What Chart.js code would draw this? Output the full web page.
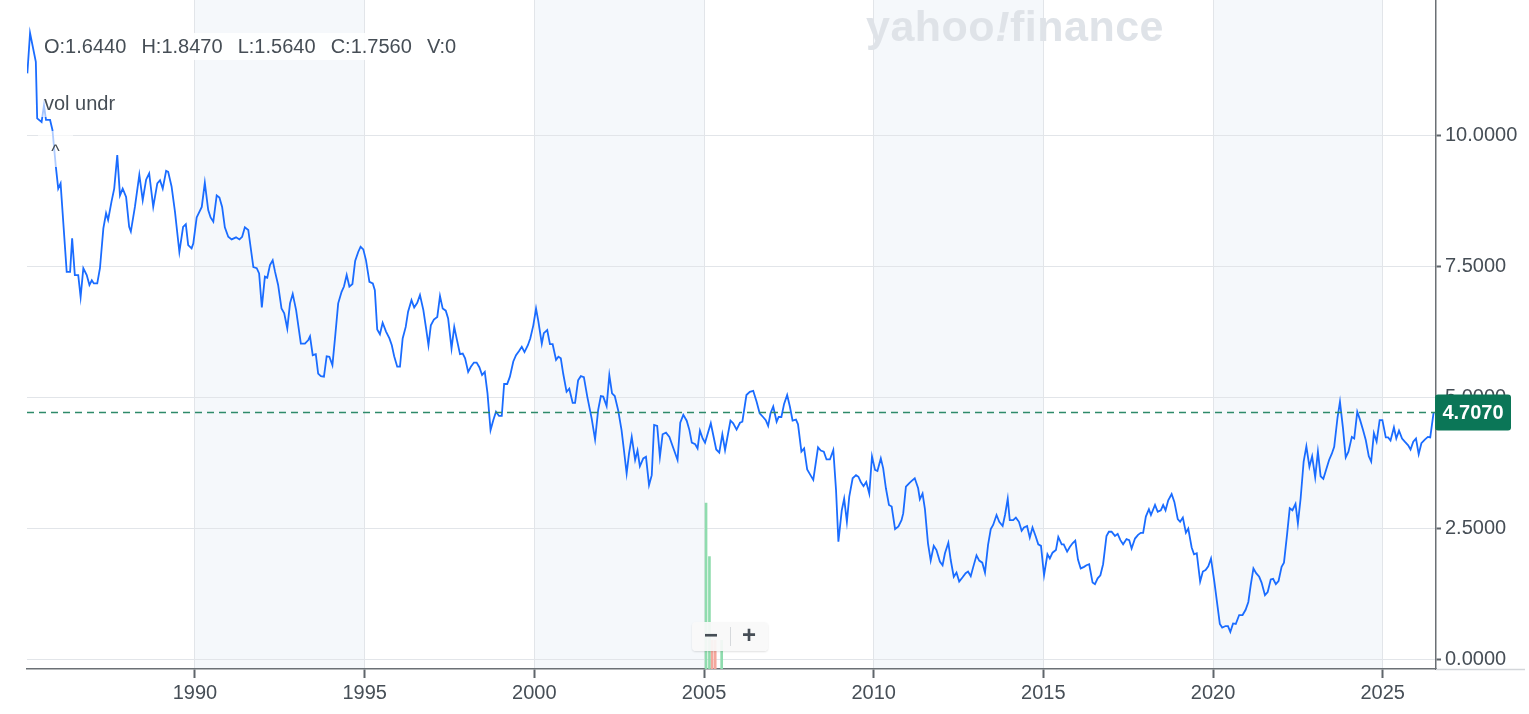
<!DOCTYPE html>
<html>
<head>
<meta charset="utf-8">
<script src="https://cdn.jsdelivr.net/npm/chart.js@4.4.1/dist/chart.umd.min.js"></script>
<style>
  html, body { margin: 0; padding: 0; background: #fff; }
  #wrap { position: relative; width: 1529px; height: 714px; font-family: "Liberation Sans", Arial, sans-serif; }
  .ov { position: absolute; color: #464e56; font-size: 20px; white-space: pre; }
  #ohlc { left: 40px; top: 33px; padding: 2px 4px; background: rgba(255,255,255,0.9); word-spacing: 2px; }
  #vol { left: 40px; top: 90px; padding: 2px 4px; background: rgba(255,255,255,0.6); }
  #caret { left: 38px; top: 131px; width: 35px; height: 36px; background: rgba(255,255,255,0.65); text-align: center; font-size: 18px; line-height: 40px; }
  #logo { left: 866px; top: 2px; font-size: 43px; font-weight: bold; color: #dfe3e8; letter-spacing: 0.5px; }
  #logo i { font-style: italic; }
  #zoomBox { left: 692px; top: 622px; width: 76px; height: 29px; background: rgba(248,248,248,0.92); border-radius: 4px; box-shadow: 0 1px 2px rgba(0,0,0,0.12); color: #464e56; font-size: 24px; font-weight: bold; }
  #zoomBox span { position: absolute; top: -1px; width: 38px; text-align: center; }
  #zoomBox .sep { position: absolute; left: 38px; top: 5px; width: 1px; height: 19px; background: #d6d9dc; }
</style>
</head>
<body>
<div id="wrap">
  <canvas id="myChart" width="1529" height="714"></canvas>
  <div class="ov" id="logo">yahoo<i>!</i>finance</div>
  <div class="ov" id="ohlc">O:1.6440  H:1.8470  L:1.5640  C:1.7560  V:0</div>
  <div class="ov" id="vol">vol undr</div>
  <div class="ov" id="caret">^</div>
  <div class="ov" id="zoomBox"><span style="left:0">&minus;</span><div class="sep"></div><span style="left:38px">+</span></div>
</div>
<script>
// monthly-ish readings, decimal year
const years = [
  1985.06, 1985.14, 1985.31, 1985.35, 1985.48, 1985.55, 1985.61, 1985.73, 1985.80, 1985.90, 1985.97,
  1986.04, 1986.22, 1986.32, 1986.38, 1986.46, 1986.56, 1986.63, 1986.71, 1986.81, 1986.89, 1986.96,
  1987.02, 1987.12, 1987.20, 1987.30, 1987.38, 1987.44, 1987.54, 1987.62, 1987.71, 1987.79, 1987.87, 1987.97,
  1988.06, 1988.11, 1988.23, 1988.36, 1988.46, 1988.56, 1988.65, 1988.77, 1988.89, 1988.97,
  1989.05, 1989.15, 1989.21, 1989.31, 1989.41, 1989.54, 1989.65, 1989.73, 1989.80, 1989.90, 1989.95,
  1990.05, 1990.20, 1990.29, 1990.39, 1990.46, 1990.54, 1990.64, 1990.72, 1990.80, 1990.88, 1990.98,
  1991.08, 1991.21, 1991.31, 1991.39, 1991.47, 1991.57, 1991.72, 1991.82, 1991.89, 1991.97,
  1992.06, 1992.13, 1992.21, 1992.29, 1992.36, 1992.45, 1992.55, 1992.63, 1992.72, 1992.80, 1992.88, 1992.98,
  1993.12, 1993.24, 1993.34, 1993.39, 1993.47, 1993.56, 1993.63, 1993.71, 1993.80, 1993.88, 1993.96,
  1994.05, 1994.13, 1994.22, 1994.32, 1994.39, 1994.47, 1994.55, 1994.64, 1994.72, 1994.81, 1994.88, 1994.96,
  1995.04, 1995.14, 1995.24, 1995.30, 1995.37, 1995.45, 1995.53, 1995.63, 1995.73, 1995.80, 1995.87, 1995.96,
  1996.04, 1996.12, 1996.21, 1996.28, 1996.38, 1996.46, 1996.55, 1996.63, 1996.73, 1996.81, 1996.88, 1996.95,
  1997.04, 1997.14, 1997.22, 1997.30, 1997.39, 1997.46, 1997.56, 1997.64, 1997.71, 1997.81, 1997.89, 1997.96,
  1998.05, 1998.13, 1998.22, 1998.30, 1998.38, 1998.46, 1998.54, 1998.62, 1998.71, 1998.79, 1998.87, 1998.96,
  1999.04, 1999.11, 1999.20, 1999.28, 1999.38, 1999.46, 1999.55, 1999.63, 1999.71, 1999.81, 1999.88, 1999.97,
  2000.05, 2000.12, 2000.22, 2000.28, 2000.38, 2000.46, 2000.54, 2000.64, 2000.71, 2000.78, 2000.85, 2000.95,
  2001.03, 2001.13, 2001.20, 2001.29, 2001.37, 2001.46, 2001.56, 2001.69, 2001.79, 2001.88, 2001.96,
  2002.03, 2002.13, 2002.21, 2002.29, 2002.37, 2002.47, 2002.57, 2002.64, 2002.72, 2002.79, 2002.87, 2002.97,
  2003.04, 2003.11, 2003.21, 2003.29, 2003.38, 2003.46, 2003.53, 2003.62, 2003.70, 2003.78, 2003.88, 2003.98,
  2004.10, 2004.22, 2004.30, 2004.39, 2004.49, 2004.57, 2004.64, 2004.74, 2004.81, 2004.88, 2004.96,
  2005.03, 2005.20, 2005.36, 2005.45, 2005.54, 2005.62, 2005.78, 2005.86, 2005.96,
  2006.06, 2006.13, 2006.25, 2006.35, 2006.45, 2006.55, 2006.64, 2006.74, 2006.82, 2006.89, 2006.96,
  2007.04, 2007.14, 2007.20, 2007.28, 2007.36, 2007.45, 2007.53, 2007.61, 2007.71, 2007.77, 2007.87, 2007.95,
  2008.04, 2008.12, 2008.22, 2008.36, 2008.44, 2008.53, 2008.61, 2008.71, 2008.81, 2008.89, 2008.96,
  2009.06, 2009.13, 2009.21, 2009.28, 2009.38, 2009.48, 2009.55, 2009.62, 2009.70, 2009.78, 2009.87, 2009.95,
  2010.04, 2010.11, 2010.21, 2010.28, 2010.36, 2010.45, 2010.53, 2010.63, 2010.73, 2010.82, 2010.87, 2010.95,
  2011.05, 2011.12, 2011.21, 2011.31, 2011.36, 2011.44, 2011.51, 2011.60, 2011.68, 2011.77, 2011.85, 2011.95,
  2012.03, 2012.10, 2012.20, 2012.27, 2012.36, 2012.44, 2012.52, 2012.62, 2012.71, 2012.78, 2012.86, 2012.93,
  2013.03, 2013.11, 2013.20, 2013.28, 2013.37, 2013.45, 2013.52, 2013.62, 2013.70, 2013.80, 2013.87, 2013.95,
  2014.01, 2014.11, 2014.19, 2014.28, 2014.36, 2014.43, 2014.52, 2014.60, 2014.68, 2014.77, 2014.85, 2014.93,
  2015.02, 2015.12, 2015.19, 2015.27, 2015.37, 2015.44, 2015.54, 2015.60, 2015.70, 2015.78, 2015.86, 2015.94,
  2016.02, 2016.10, 2016.20, 2016.27, 2016.35, 2016.45, 2016.52, 2016.60, 2016.68, 2016.76, 2016.86, 2016.93,
  2017.01, 2017.11, 2017.19, 2017.27, 2017.35, 2017.45, 2017.53, 2017.60, 2017.70, 2017.79, 2017.87, 2017.94,
  2018.02, 2018.11, 2018.17, 2018.29, 2018.37, 2018.46, 2018.53, 2018.60, 2018.68, 2018.78, 2018.86, 2018.96,
  2019.03, 2019.11, 2019.20, 2019.27, 2019.37, 2019.44, 2019.52, 2019.62, 2019.70, 2019.78, 2019.86, 2019.94,
  2020.04, 2020.20, 2020.27, 2020.37, 2020.44, 2020.51, 2020.59, 2020.67, 2020.77, 2020.87, 2020.96,
  2021.04, 2021.11, 2021.19, 2021.27, 2021.36, 2021.43, 2021.53, 2021.61, 2021.70, 2021.77, 2021.85, 2021.93,
  2022.02, 2022.09, 2022.18, 2022.26, 2022.34, 2022.43, 2022.50, 2022.58, 2022.67, 2022.75, 2022.84, 2022.92,
  2023.01, 2023.09, 2023.17, 2023.25, 2023.33, 2023.42, 2023.50, 2023.57, 2023.67, 2023.74, 2023.83, 2023.91, 2023.99,
  2024.09, 2024.16, 2024.25, 2024.33, 2024.42, 2024.50, 2024.59, 2024.66, 2024.74, 2024.82, 2024.91, 2024.99,
  2025.09, 2025.16, 2025.23, 2025.33, 2025.40, 2025.48, 2025.57, 2025.65, 2025.75, 2025.82, 2025.90, 2025.98,
  2026.06, 2026.14, 2026.24, 2026.33, 2026.40, 2026.50
];
const yields = [
  11.18, 11.95, 11.40, 10.32, 10.25, 10.57, 10.29, 10.29, 10.10, 9.40, 8.98,
  9.08, 7.39, 7.39, 8.03, 7.33, 7.33, 6.91, 7.46, 7.33, 7.14, 7.23,
  7.17, 7.17, 7.46, 8.22, 8.51, 8.38, 8.73, 8.98, 9.62, 8.85, 8.98, 8.82,
  8.25, 8.16, 8.63, 9.24, 8.76, 9.15, 9.27, 8.63, 9.08, 9.14,
  8.98, 9.32, 9.30, 9.02, 8.54, 7.77, 8.25, 8.30, 7.90, 7.84, 7.93,
  8.43, 8.63, 9.09, 8.57, 8.43, 8.35, 8.85, 8.81, 8.63, 8.24, 8.06,
  8.01, 8.05, 8.01, 8.06, 8.24, 8.19, 7.48, 7.46, 7.36, 6.71,
  7.30, 7.28, 7.52, 7.61, 7.39, 7.14, 6.69, 6.60, 6.31, 6.79, 6.97, 6.66,
  6.02, 6.02, 6.09, 6.16, 5.80, 5.82, 5.45, 5.40, 5.39, 5.78, 5.77,
  5.61, 6.15, 6.79, 7.01, 7.11, 7.33, 7.11, 7.16, 7.60, 7.77, 7.87, 7.82,
  7.61, 7.20, 7.17, 7.04, 6.29, 6.20, 6.42, 6.25, 6.12, 5.99, 5.78, 5.58,
  5.58, 6.12, 6.34, 6.63, 6.85, 6.71, 6.80, 6.95, 6.66, 6.31, 5.99, 6.37,
  6.48, 6.53, 6.93, 6.69, 6.65, 6.50, 5.93, 6.34, 6.12, 5.82, 5.83, 5.74,
  5.48, 5.58, 5.66, 5.66, 5.57, 5.42, 5.48, 5.07, 4.37, 4.56, 4.72, 4.64,
  4.64, 5.25, 5.25, 5.39, 5.68, 5.80, 5.88, 5.96, 5.86, 5.99, 6.12, 6.37,
  6.69, 6.44, 6.02, 6.22, 6.28, 6.01, 6.01, 5.71, 5.77, 5.74, 5.45, 5.10,
  5.16, 4.89, 4.89, 5.32, 5.40, 5.38, 5.01, 4.59, 4.19, 4.75, 5.02,
  5.01, 4.83, 5.42, 5.07, 5.02, 4.75, 4.37, 3.99, 3.54, 3.92, 4.24, 3.80,
  3.98, 3.68, 3.83, 3.86, 3.32, 3.51, 4.47, 4.45, 3.86, 4.29, 4.32, 4.24,
  4.02, 3.80, 4.51, 4.66, 4.55, 4.37, 4.13, 4.10, 4.02, 4.36, 4.21,
  4.13, 4.50, 4.00, 3.94, 4.29, 3.99, 4.55, 4.50, 4.38,
  4.51, 4.53, 5.04, 5.10, 5.12, 4.91, 4.69, 4.62, 4.56, 4.45, 4.69,
  4.82, 4.53, 4.62, 4.62, 4.87, 5.04, 4.82, 4.55, 4.57, 4.48, 3.96, 4.02,
  3.62, 3.53, 3.42, 4.04, 3.98, 3.96, 3.81, 3.81, 3.99, 3.23, 2.24,
  2.84, 3.06, 2.62, 3.10, 3.45, 3.51, 3.48, 3.38, 3.30, 3.38, 3.16, 3.87,
  3.61, 3.59, 3.83, 3.64, 3.26, 2.94, 2.91, 2.48, 2.53, 2.65, 2.78, 3.29,
  3.36, 3.40, 3.45, 3.26, 3.05, 3.16, 2.86, 2.21, 1.88, 2.16, 2.08, 1.86,
  1.79, 2.02, 2.22, 1.89, 1.57, 1.65, 1.48, 1.56, 1.64, 1.67, 1.58, 1.75,
  1.98, 1.88, 1.84, 1.65, 2.18, 2.48, 2.56, 2.75, 2.62, 2.54, 2.75, 3.06,
  2.65, 2.65, 2.70, 2.62, 2.45, 2.51, 2.54, 2.32, 2.51, 2.35, 2.19, 2.16,
  1.60, 2.00, 1.92, 2.03, 2.08, 2.33, 2.19, 2.19, 2.05, 2.14, 2.21, 2.26,
  1.90, 1.73, 1.76, 1.79, 1.81, 1.46, 1.43, 1.54, 1.60, 1.81, 2.35, 2.43,
  2.43, 2.35, 2.39, 2.27, 2.19, 2.29, 2.27, 2.11, 2.30, 2.37, 2.41, 2.41,
  2.72, 2.86, 2.75, 2.94, 2.81, 2.84, 2.94, 2.84, 3.03, 3.15, 3.00, 2.67,
  2.62, 2.70, 2.41, 2.49, 2.13, 2.00, 2.02, 1.48, 1.67, 1.70, 1.77, 1.92,
  1.47, 0.67, 0.60, 0.63, 0.63, 0.52, 0.68, 0.67, 0.84, 0.84, 0.94,
  1.09, 1.41, 1.73, 1.64, 1.57, 1.46, 1.22, 1.28, 1.52, 1.53, 1.43, 1.49,
  1.76, 1.84, 2.37, 2.88, 2.84, 2.96, 2.59, 3.06, 3.77, 4.06, 3.67, 3.87,
  3.47, 3.96, 3.49, 3.44, 3.61, 3.80, 3.92, 4.05, 4.62, 4.91, 4.40, 3.85, 3.96,
  4.24, 4.21, 4.72, 4.57, 4.37, 4.18, 3.87, 3.77, 4.31, 4.15, 4.56, 4.56,
  4.23, 4.23, 4.17, 4.42, 4.21, 4.36, 4.21, 4.15, 4.08, 4.00, 4.15, 4.21,
  3.91, 4.12, 4.19, 4.24, 4.23, 4.707
];

// the few volume bars near 2005 (relative units)
const volYears = [2005.06, 2005.16, 2005.24, 2005.33, 2005.52];
const volValues = [24.8, 16.8, 4.3, 4.3, 4.3];
const volUp = [true, true, false, false, true];

const xTickValues = [1990, 1995, 2000, 2005, 2010, 2015, 2020, 2025];
const yTickValues = [0, 2.5, 5, 7.5, 10];
const bandStarts = [1990, 2000, 2010, 2020];
const lastPrice = yields[yields.length - 1];

const tickFont = { family: '"Liberation Sans", Arial, sans-serif', size: 20 };

const bandsPlugin = {
  id: 'bands',
  beforeDraw(chart) {
    const { ctx, chartArea: a, scales: { x } } = chart;
    ctx.save();
    ctx.fillStyle = '#f5f8fb';
    bandStarts.forEach(b => {
      const x0 = x.getPixelForValue(b), x1 = x.getPixelForValue(b + 5);
      ctx.fillRect(x0, a.top, x1 - x0, a.bottom - a.top);
    });
    ctx.restore();
  }
};

const priceLinePlugin = {
  id: 'priceLine',
  afterDraw(chart) {
    const { ctx, chartArea: a, scales: { y } } = chart;
    const py = Math.round(y.getPixelForValue(lastPrice)) + 0.5;
    ctx.save();
    // axis line continues under the y labels
    ctx.strokeStyle = '#d3d6da';
    ctx.lineWidth = 1.5;
    ctx.beginPath();
    ctx.moveTo(a.right, a.bottom + 0.5);
    ctx.lineTo(1525, a.bottom + 0.5);
    ctx.stroke();

    ctx.strokeStyle = '#2e8a6a';
    ctx.lineWidth = 1.5;
    ctx.setLineDash([7, 5]);
    ctx.beginPath();
    ctx.moveTo(a.left, py);
    ctx.lineTo(a.right, py);
    ctx.stroke();
    ctx.setLineDash([]);

    const bx = a.right - 1, bw = 76, bh = 36;
    ctx.fillStyle = '#0b7657';
    ctx.beginPath();
    ctx.roundRect(bx, py - bh / 2, bw, bh, 3);
    ctx.fill();
    ctx.fillStyle = '#ffffff';
    ctx.font = 'bold 20px "Liberation Sans", Arial, sans-serif';
    ctx.textAlign = 'center';
    ctx.textBaseline = 'middle';
    ctx.fillText(lastPrice.toFixed(4), bx + bw / 2, py + 1);
    ctx.restore();
  }
};

new Chart(document.getElementById('myChart'), {
  data: {
    datasets: [
      {
        type: 'line',
        data: years.map((t, i) => ({ x: t, y: yields[i] })),
        borderColor: '#1a6cff',
        borderWidth: 1.8,
        pointRadius: 0,
        tension: 0,
        yAxisID: 'y',
        order: 1
      },
      {
        type: 'bar',
        data: volYears.map((t, i) => ({ x: t, y: volValues[i] })),
        backgroundColor: volUp.map(u => (u ? '#8fdcae' : '#f4a79c')),
        barThickness: 2,
        yAxisID: 'yVol',
        order: 2
      }
    ]
  },
  options: {
    responsive: false,
    animation: false,
    events: [],
    layout: { padding: { left: 27, top: 0, right: 0, bottom: 0 } },
    plugins: { legend: { display: false }, tooltip: { enabled: false } },
    scales: {
      x: {
        type: 'linear',
        offset: false,
        min: 1985.05,
        max: 2026.57,
        afterBuildTicks: s => { s.ticks = xTickValues.map(v => ({ value: v })); },
        afterFit: s => { s.height = 45; s.paddingLeft = 0; s.paddingRight = 0; },
        ticks: { callback: v => String(v), color: '#464e56', font: tickFont, padding: 3, maxRotation: 0 },
        grid: { offset: false, color: '#e2e5e9', tickColor: '#5f656b', tickLength: 9, tickWidth: 2 },
        border: { color: '#6b7075', width: 1.5 }
      },
      y: {
        type: 'linear',
        position: 'right',
        min: -0.19,
        max: 12.58,
        afterBuildTicks: s => { s.ticks = yTickValues.map(v => ({ value: v })); },
        afterFit: s => { s.width = 93; s.paddingTop = 0; s.paddingBottom = 0; },
        ticks: { callback: v => Number(v).toFixed(4), color: '#464e56', font: tickFont, padding: 4 },
        grid: { color: '#e2e5e9', tickColor: '#5f656b', tickLength: 5, tickWidth: 2 },
        border: { color: '#6b7075', width: 1.5 }
      },
      yVol: {
        type: 'linear',
        display: false,
        min: 0,
        max: 100
      }
    }
  },
  plugins: [bandsPlugin, priceLinePlugin]
});
</script>
</body>
</html>
